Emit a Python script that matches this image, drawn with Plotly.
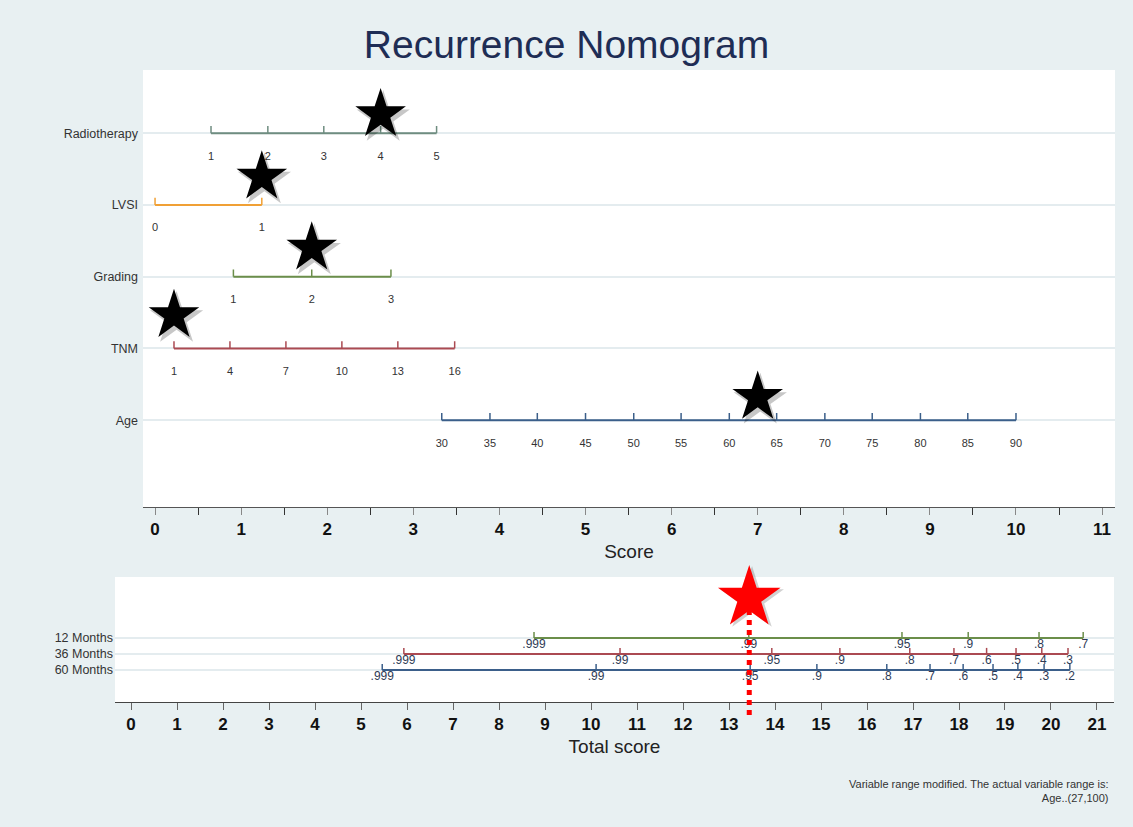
import numpy as np
import plotly.graph_objects as go

# ---------------- data ----------------
variables = ["Radiotherapy", "LVSI", "Grading", "TNM", "Age"]

radio_vals = ["1", "2", "3", "4", "5"]
radio_pts = [0.65, 1.31, 1.96, 2.62, 3.27]

lvsi_vals = ["0", "1"]
lvsi_pts = [0.0, 1.24]

grading_vals = ["1", "2", "3"]
grading_pts = [0.91, 1.82, 2.74]

tnm_vals = ["1", "4", "7", "10", "13", "16"]
tnm_pts = [0.22, 0.87, 1.52, 2.17, 2.82, 3.48]

age_vals = ["30", "35", "40", "45", "50", "55", "60", "65", "70", "75", "80", "85", "90"]
age_pts = [3.33, 3.89, 4.44, 5.00, 5.56, 6.11, 6.67, 7.22, 7.78, 8.33, 8.89, 9.44, 10.0]

# selected patient values (score positions of stars)
selected_pts = [2.62, 1.24, 1.82, 0.22, 7.0]

months = ["12 Months", "36 Months", "60 Months"]
m12_vals = [".999", ".99", ".95", ".9", ".8", ".7"]
m12_pts = [8.76, 13.43, 16.76, 18.20, 19.74, 20.70]
m36_vals = [".999", ".99", ".95", ".9", ".8", ".7", ".6", ".5", ".4", ".3"]
m36_pts = [5.93, 10.63, 13.93, 15.41, 16.93, 17.89, 18.60, 19.24, 19.80, 20.37]
m60_vals = [".999", ".99", ".95", ".9", ".8", ".7", ".6", ".5", ".4", ".3", ".2"]
m60_pts = [5.46, 10.11, 13.46, 14.91, 16.43, 17.37, 18.09, 18.74, 19.28, 19.85, 20.41]

total_score = 13.44

score_ticks = list(range(0, 12))
total_ticks = list(range(0, 22))

# ---------------- style ----------------
BG = "#e8f0f2"
FONT = "Liberation Sans, Arial, sans-serif"
var_colors = ["#6f8d80", "#f0a035", "#6b8e4a", "#ab4a52", "#3b5f8a"]
month_colors = ["#6b8e4a", "#ab4a52", "#3b5f8a"]
top_rows = [5, 4, 3, 2, 1]
bot_rows = [3, 2, 1]
star_lift = [0.26, 0.39, 0.40, 0.46, 0.32]

fig = go.Figure()

def add_scale(pts, labels, row, color, xa, ya, tick_h, lab_off, fsize, fcolor):
    fig.add_trace(go.Scatter(x=[pts[0], pts[-1]], y=[row, row], mode="lines",
                             line=dict(color=color, width=2), xaxis=xa, yaxis=ya,
                             hoverinfo="skip", showlegend=False))
    tx, ty = [], []
    for p in pts:
        tx += [p, p, None]
        ty += [row, row + tick_h, None]
    fig.add_trace(go.Scatter(x=tx, y=ty, mode="lines", line=dict(color=color, width=1.5),
                             xaxis=xa, yaxis=ya, hoverinfo="skip", showlegend=False))
    fig.add_trace(go.Scatter(x=pts, y=[row - lab_off] * len(pts), mode="text", text=labels,
                             textfont=dict(size=fsize, color=fcolor, family=FONT),
                             textposition="middle center", xaxis=xa, yaxis=ya,
                             hoverinfo="skip", showlegend=False, cliponaxis=False))

top_scales = [(radio_pts, radio_vals), (lvsi_pts, lvsi_vals), (grading_pts, grading_vals),
              (tnm_pts, tnm_vals), (age_pts, age_vals)]
for (pts, labs), row, col in zip(top_scales, top_rows, var_colors):
    add_scale(pts, labs, row, col, "x", "y", 0.1, 0.33, 11, "#333333")

bot_scales = [(m12_pts, m12_vals), (m36_pts, m36_vals), (m60_pts, m60_vals)]
for (pts, labs), row, col in zip(bot_scales, bot_rows, month_colors):
    add_scale(pts, labs, row, col, "x2", "y2", 0.38, 0.45, 12, "#2e3a55")

# stars (shadow + star)
sy = [r + l for r, l in zip(top_rows, star_lift)]
fig.add_trace(go.Scatter(x=[p + 0.03 for p in selected_pts], y=[v - 0.05 for v in sy], mode="markers",
                         marker=dict(symbol="star", size=40, color="rgba(0,0,0,0.22)", line=dict(width=0)),
                         xaxis="x", yaxis="y", hoverinfo="skip", showlegend=False, cliponaxis=False))
fig.add_trace(go.Scatter(x=selected_pts, y=sy, mode="markers",
                         marker=dict(symbol="star", size=38, color="black", line=dict(width=0)),
                         xaxis="x", yaxis="y", hoverinfo="skip", showlegend=False, cliponaxis=False))

# red dotted line and red star in total-score panel
fig.add_shape(type="line", xref="x2", yref="paper", x0=total_score, x1=total_score,
              y0=1 - 715 / 827, y1=1 - 598 / 827, line=dict(color="#ff0000", width=5, dash="dot"),
              layer="above")
fig.add_trace(go.Scatter(x=[total_score + 0.06], y=[5.4], mode="markers",
                         marker=dict(symbol="star", size=48, color="rgba(0,0,0,0.18)", line=dict(width=0)),
                         xaxis="x2", yaxis="y2", hoverinfo="skip", showlegend=False, cliponaxis=False))
fig.add_trace(go.Scatter(x=[total_score], y=[5.5], mode="markers",
                         marker=dict(symbol="star", size=47, color="#ff0000", line=dict(width=0)),
                         xaxis="x2", yaxis="y2", hoverinfo="skip", showlegend=False, cliponaxis=False))

tickfont = dict(size=17, color="#111111", family=FONT, weight="bold")
fig.update_layout(
    width=1133, height=827,
    margin=dict(l=0, r=0, t=0, b=0),
    paper_bgcolor=BG, plot_bgcolor="white",
    font=dict(family=FONT),
    title=dict(text="Recurrence Nomogram", x=0.5, xanchor="center", y=1 - 44 / 827, yanchor="middle",
               font=dict(size=39, color="#1e2d55", family=FONT)),
    xaxis=dict(domain=[143 / 1133, 1115 / 1133], range=[-0.14, 11.15], tickvals=score_ticks,
               showgrid=False, zeroline=False, showline=True, linecolor="#555555", linewidth=1,
               ticks="outside", ticklen=7, tickcolor="#888888", tickfont=tickfont,
               minor=dict(dtick=0.5, ticks="outside", ticklen=7, tickcolor="#333333", showgrid=False),
               title=dict(text="Score", font=dict(size=19, color="#222222", family=FONT), standoff=6)),
    yaxis=dict(domain=[1 - 507 / 827, 1 - 70 / 827], range=[-0.21, 5.88], tickvals=top_rows,
               ticktext=variables, showgrid=True, gridcolor="#e4ecef", gridwidth=1.5, zeroline=False,
               showline=False, ticks="", ticklabelstandoff=4,
               tickfont=dict(size=12.5, color="#333333", family=FONT)),
    xaxis2=dict(domain=[115 / 1133, 1114 / 1133], range=[-0.35, 21.37], tickvals=total_ticks,
                showgrid=False, zeroline=False, showline=True, linecolor="#444444", linewidth=1,
                ticks="outside", ticklen=7, tickcolor="#666666", tickfont=tickfont, anchor="y2",
                title=dict(text="Total score", font=dict(size=19, color="#222222", family=FONT), standoff=6)),
    yaxis2=dict(domain=[1 - 702 / 827, 1 - 577 / 827], range=[-1.0, 6.81], tickvals=bot_rows,
                ticktext=months, showgrid=True, gridcolor="#e4ecef", gridwidth=1.5, zeroline=False,
                showline=False, ticks="", anchor="x2", ticklabelstandoff=1,
                tickfont=dict(size=12.5, color="#333333", family=FONT)),
    annotations=[dict(text="Variable range modified. The actual variable range is:<br>Age..(27,100)",
                      xref="paper", yref="paper", x=1110 / 1133, y=1 - 776 / 827, xanchor="right",
                      yanchor="top", align="right", showarrow=False,
                      font=dict(size=11, color="#333333", family=FONT))],
)

fig.write_html("out.html")
